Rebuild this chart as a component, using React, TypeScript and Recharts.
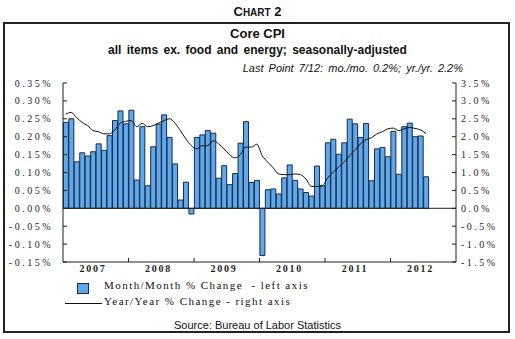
import React from 'react';
import {
  ComposedChart,
  Bar,
  Line,
  XAxis,
  YAxis,
  ReferenceLine,
} from 'recharts';

// Core CPI, Jan 2007 - Jul 2012 (axis runs to Dec 2012)
const years = [2007, 2008, 2009, 2010, 2011, 2012];

// month/month % change (left axis)
const momChange = [
  0.24, 0.25, 0.13, 0.155, 0.146, 0.158, 0.18, 0.162, 0.203, 0.245, 0.272, 0.236,
  0.274, 0.079, 0.228, 0.063, 0.172, 0.235, 0.261, 0.198, 0.124, 0.023, 0.073, -0.016,
  0.198, 0.205, 0.217, 0.21, 0.084, 0.119, 0.066, 0.097, 0.182, 0.242, 0.072, 0.078,
  -0.132, 0.052, 0.054, 0.04, 0.085, 0.121, 0.078, 0.054, 0.044, 0.034, 0.118, 0.063,
  0.183, 0.193, 0.151, 0.183, 0.249, 0.236, 0.198, 0.237, 0.077, 0.166, 0.17, 0.144,
  0.215, 0.095, 0.228, 0.238, 0.2, 0.202, 0.088,
];

// year/year % change (right axis)
const yoyChange = [
  2.63, 2.68, 2.53, 2.4, 2.31, 2.17, 2.14, 2.08, 2.08, 2.19, 2.38, 2.43,
  2.45, 2.28, 2.37, 2.28, 2.31, 2.38, 2.45, 2.5, 2.38, 2.17, 1.94, 1.75,
  1.66, 1.75, 1.75, 1.89, 1.8, 1.66, 1.5, 1.41, 1.5, 1.71, 1.71, 1.79,
  1.47, 1.29, 1.13, 0.96, 0.94, 0.94, 0.96, 0.94, 0.82, 0.61, 0.61, 0.63,
  0.85, 1.01, 1.15, 1.29, 1.47, 1.63, 1.8, 1.92, 1.97, 2.08, 2.14, 2.22,
  2.24, 2.17, 2.22, 2.26, 2.23, 2.19, 2.09,
];

const leftTicks = [-0.15, -0.1, -0.05, 0, 0.05, 0.1, 0.15, 0.2, 0.25, 0.3, 0.35];
const rightTicks = [-1.5, -1, -0.5, 0, 0.5, 1, 1.5, 2, 2.5, 3, 3.5];

const months: string[] = [];
years.forEach((y) => {
  for (let m = 1; m <= 12; m++) months.push(`${y}-${String(m).padStart(2, '0')}`);
});

const data = months.map((m, i) => ({
  m,
  mom: i < momChange.length ? momChange[i] : null,
  yoy: i < yoyChange.length ? yoyChange[i] : null,
}));

const W = 515;
const H = 339;
const LEFT_W = 63;
const RIGHT_W = 59;
const BAND = (W - LEFT_W - RIGHT_W) / months.length;

const serif = '"Liberation Serif", "Times New Roman", serif';
const sans = '"Liberation Sans", Arial, sans-serif';
const ink = '#1e1e1e';

function YearTick(props: any) {
  const { x, y, payload } = props;
  const [yr, mo] = String(payload.value).split('-');
  return (
    <g>
      {mo === '01' && yr !== String(years[0]) && (
        <line x1={x - BAND / 2} x2={x - BAND / 2} y1={y} y2={y - 4} stroke={ink} />
      )}
      {mo === '06' && (
        <text
          x={x}
          y={y + 10}
          textAnchor="middle"
          fontFamily={serif}
          fontSize={10}
          fontWeight="bold"
          letterSpacing={1.8}
          fill={ink}
        >
          {yr}
        </text>
      )}
    </g>
  );
}

const tickStyle = { fontFamily: serif, fontSize: 10, fill: ink, letterSpacing: 2.5 };

const legendText = {
  position: 'absolute' as const,
  left: 104,
  fontFamily: serif,
  fontSize: 11,
  lineHeight: '14px',
  letterSpacing: 1.45,
  color: '#111',
  whiteSpace: 'pre' as const,
};

export default function App() {
  return (
    <div style={{ position: 'absolute', left: 0, top: 0, width: W, height: H, background: '#fff' }}>
      <div
        style={{
          position: 'absolute',
          left: 3,
          top: 22,
          width: 507,
          height: 311,
          border: '2px solid #222',
          boxSizing: 'border-box',
        }}
      />
      <div
        style={{
          position: 'absolute',
          left: 0,
          width: W,
          top: 3,
          textAlign: 'center',
          fontFamily: sans,
          fontWeight: 'bold',
          fontSize: 13,
          lineHeight: '18px',
          color: '#111',
        }}
      >
        C<span style={{ fontSize: 10 }}>HART</span> 2
      </div>
      <div
        style={{
          position: 'absolute',
          left: 0,
          width: W,
          top: 26,
          textAlign: 'center',
          fontFamily: sans,
          fontWeight: 'bold',
          fontSize: 13,
          lineHeight: '16px',
          color: '#111',
        }}
      >
        Core CPI
      </div>
      <div
        style={{
          position: 'absolute',
          left: 0,
          width: W,
          top: 42,
          textAlign: 'center',
          fontFamily: sans,
          fontWeight: 'bold',
          fontSize: 12,
          lineHeight: '16px',
          wordSpacing: 2,
          color: '#111',
        }}
      >
        all items ex. food and energy; seasonally-adjusted
      </div>
      <div
        style={{
          position: 'absolute',
          right: W - 463,
          top: 61,
          fontFamily: sans,
          fontStyle: 'italic',
          fontSize: 11,
          lineHeight: '14px',
          wordSpacing: 2,
          color: '#111',
          whiteSpace: 'nowrap',
        }}
      >
        Last Point 7/12: mo./mo. 0.2%; yr./yr. 2.2%
      </div>

      <div style={{ position: 'absolute', left: 0, top: 0 }}>
        <ComposedChart
          width={W}
          height={H}
          data={data}
          margin={{ top: 83, right: 0, bottom: 57, left: 0 }}
          barCategoryGap="7%"
        >
          <XAxis
            dataKey="m"
            interval={0}
            tick={<YearTick />}
            tickLine={false}
            tickSize={0}
            tickMargin={0}
            height={20}
            axisLine={{ stroke: ink }}
          />
          <XAxis
            xAxisId="top"
            dataKey="m"
            orientation="top"
            tick={false}
            tickLine={false}
            height={0}
            axisLine={{ stroke: ink }}
          />
          <YAxis
            yAxisId="left"
            orientation="left"
            width={LEFT_W}
            domain={[-0.15, 0.35]}
            ticks={leftTicks}
            tickFormatter={(v: number) => `${v.toFixed(2)}%`}
            tick={tickStyle}
            tickSize={-4}
            tickMargin={14}
            tickLine={{ stroke: ink }}
            axisLine={{ stroke: ink }}
            interval={0}
          />
          <YAxis
            yAxisId="right"
            orientation="right"
            width={RIGHT_W}
            domain={[-1.5, 3.5]}
            ticks={rightTicks}
            tickFormatter={(v: number) => `${v.toFixed(1)}%`}
            tick={tickStyle}
            tickSize={-4}
            tickMargin={9}
            tickLine={{ stroke: ink }}
            axisLine={{ stroke: ink }}
            interval={0}
          />
          <Bar
            yAxisId="left"
            dataKey="mom"
            fill="#5ea9ec"
            stroke="#1b2a48"
            strokeWidth={1}
            isAnimationActive={false}
          />
          <ReferenceLine yAxisId="left" y={0} stroke={ink} strokeWidth={1} />
          <Line
            yAxisId="right"
            type="monotone"
            dataKey="yoy"
            stroke="#111"
            strokeWidth={1}
            dot={false}
            activeDot={false}
            isAnimationActive={false}
          />
        </ComposedChart>
      </div>

      <div
        style={{
          position: 'absolute',
          left: 77,
          top: 283,
          width: 12,
          height: 11,
          background: '#5ea9ec',
          border: '1px solid #1b2a48',
          boxSizing: 'border-box',
        }}
      />
      <div style={{ ...legendText, top: 278 }}>Month/Month % Change  - left axis</div>
      <div style={{ position: 'absolute', left: 65, top: 303, width: 37, height: 1, background: '#111' }} />
      <div style={{ ...legendText, top: 294 }}>Year/Year % Change - right axis</div>
      <div
        style={{
          position: 'absolute',
          left: 0,
          width: W,
          top: 318,
          textAlign: 'center',
          fontFamily: sans,
          fontSize: 11,
          lineHeight: '14px',
          color: '#111',
        }}
      >
        Source: Bureau of Labor Statistics
      </div>
    </div>
  );
}
